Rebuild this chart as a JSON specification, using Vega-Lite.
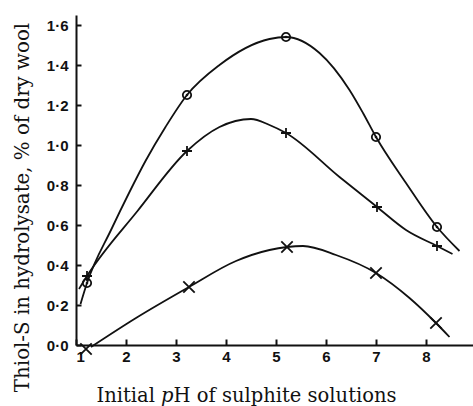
{
  "$schema": "https://vega.github.io/schema/vega-lite/v6.json",
  "width": 397,
  "height": 330,
  "autosize": {"type": "none"},
  "padding": {"left": 76, "top": 15, "right": 0, "bottom": 61},
  "background": "white",
  "config": {
    "view": {"stroke": null},
    "axis": {
      "grid": false,
      "domainColor": "#111",
      "domainWidth": 2,
      "tickColor": "#111",
      "tickWidth": 2,
      "labelColor": "#111",
      "labelFont": "Liberation Sans",
      "labelFontWeight": "bold",
      "labelFontSize": 15,
      "titleColor": "#111",
      "titleFont": "DejaVu Serif",
      "titleFontWeight": "normal",
      "titleFontSize": 19.5
    }
  },
  "datasets": {
    "curves": [
      {"series": "A", "pH": 1.09, "value": 0.205},
      {"series": "A", "pH": 1.22, "value": 0.31},
      {"series": "A", "pH": 1.71, "value": 0.58},
      {"series": "A", "pH": 2.06, "value": 0.76},
      {"series": "A", "pH": 2.39, "value": 0.92},
      {"series": "A", "pH": 2.79, "value": 1.09},
      {"series": "A", "pH": 3.22, "value": 1.25},
      {"series": "A", "pH": 3.87, "value": 1.4},
      {"series": "A", "pH": 4.87, "value": 1.53},
      {"series": "A", "pH": 5.2, "value": 1.54},
      {"series": "A", "pH": 5.87, "value": 1.46},
      {"series": "A", "pH": 6.47, "value": 1.275},
      {"series": "A", "pH": 6.74, "value": 1.16},
      {"series": "A", "pH": 7.0, "value": 1.04},
      {"series": "A", "pH": 7.6, "value": 0.81},
      {"series": "A", "pH": 8.22, "value": 0.59},
      {"series": "A", "pH": 8.67, "value": 0.47},
      {"series": "B", "pH": 1.06, "value": 0.28},
      {"series": "B", "pH": 1.22, "value": 0.345},
      {"series": "B", "pH": 2.23, "value": 0.67},
      {"series": "B", "pH": 3.22, "value": 0.97},
      {"series": "B", "pH": 3.87, "value": 1.09},
      {"series": "B", "pH": 4.5, "value": 1.13},
      {"series": "B", "pH": 4.87, "value": 1.1},
      {"series": "B", "pH": 5.2, "value": 1.06},
      {"series": "B", "pH": 6.27, "value": 0.84},
      {"series": "B", "pH": 7.02, "value": 0.69},
      {"series": "B", "pH": 7.6, "value": 0.575},
      {"series": "B", "pH": 8.22, "value": 0.495},
      {"series": "B", "pH": 8.53, "value": 0.455},
      {"series": "C", "pH": 1.3, "value": -0.01},
      {"series": "C", "pH": 2.2, "value": 0.135},
      {"series": "C", "pH": 3.26, "value": 0.29},
      {"series": "C", "pH": 4.2, "value": 0.42},
      {"series": "C", "pH": 4.87, "value": 0.475},
      {"series": "C", "pH": 5.22, "value": 0.49},
      {"series": "C", "pH": 5.54, "value": 0.495},
      {"series": "C", "pH": 6.2, "value": 0.45},
      {"series": "C", "pH": 7.0, "value": 0.36},
      {"series": "C", "pH": 7.67, "value": 0.235},
      {"series": "C", "pH": 8.2, "value": 0.11},
      {"series": "C", "pH": 8.47, "value": 0.04}
    ],
    "points": [
      {"series": "A", "pH": 1.22, "value": 0.31},
      {"series": "A", "pH": 3.22, "value": 1.25},
      {"series": "A", "pH": 5.2, "value": 1.54},
      {"series": "A", "pH": 7.0, "value": 1.04},
      {"series": "A", "pH": 8.22, "value": 0.59},
      {"series": "B", "pH": 1.22, "value": 0.345},
      {"series": "B", "pH": 3.22, "value": 0.97},
      {"series": "B", "pH": 5.2, "value": 1.06},
      {"series": "B", "pH": 7.02, "value": 0.69},
      {"series": "B", "pH": 8.22, "value": 0.495},
      {"series": "C", "pH": 1.2, "value": -0.02},
      {"series": "C", "pH": 3.26, "value": 0.29},
      {"series": "C", "pH": 5.22, "value": 0.49},
      {"series": "C", "pH": 7.0, "value": 0.36},
      {"series": "C", "pH": 8.2, "value": 0.11}
    ]
  },
  "layer": [
    {
      "data": {"name": "curves"},
      "mark": {"type": "line", "interpolate": "monotone", "color": "#111", "strokeWidth": 1.8},
      "encoding": {
        "x": {
          "field": "pH", "type": "quantitative",
          "scale": {"domain": [1, 8.94], "nice": false, "zero": false},
          "axis": {
            "values": [1, 2, 3, 4, 5, 6, 7, 8],
            "format": "d",
            "tickSize": -6,
            "labelPadding": 10,
            "title": "Initial 𝑝H of sulphite solutions",
            "titleX": 170,
            "titleY": 56,
            "titleAlign": "center",
            "titleBaseline": "alphabetic",
            "titleAnchor": null
          }
        },
        "y": {
          "field": "value", "type": "quantitative",
          "scale": {"domain": [0, 1.65], "nice": false, "zero": false},
          "axis": {
            "values": [0, 0.2, 0.4, 0.6, 0.8, 1.0, 1.2, 1.4, 1.6],
            "labelExpr": "replace(format(datum.value, '.1f'), '.', '·')",
            "tickSize": -5,
            "labelPadding": 13,
            "title": "Thiol-S in hydrolysate, % of dry wool",
            "titleFontSize": 19.8,
            "titleAngle": -90,
            "titleX": -48,
            "titleY": 192,
            "titleAlign": "center",
            "titleBaseline": "alphabetic",
            "titleAnchor": null
          }
        },
        "detail": {"field": "series"}
      }
    },
    {
      "data": {"name": "points"},
      "mark": {"type": "point", "filled": false, "color": "#111", "strokeWidth": 1.8, "opacity": 1},
      "encoding": {
        "x": {"field": "pH", "type": "quantitative"},
        "y": {"field": "value", "type": "quantitative"},
        "shape": {
          "field": "series", "type": "nominal",
          "scale": {"domain": ["A", "B", "C"], "range": ["circle", "M-1,0L1,0M0,-1L0,1", "M-1,-1L1,1M-1,1L1,-1"]},
          "legend": null
        },
        "size": {
          "field": "series", "type": "nominal",
          "scale": {"domain": ["A", "B", "C"], "range": [70, 130, 90]},
          "legend": null
        }
      }
    },
    {
      "data": {"name": "points"},
      "transform": [{"filter": "datum.series === 'A'"}],
      "mark": {"type": "circle", "color": "#111", "size": 7, "opacity": 1},
      "encoding": {
        "x": {"field": "pH", "type": "quantitative"},
        "y": {"field": "value", "type": "quantitative"}
      }
    }
  ]
}
